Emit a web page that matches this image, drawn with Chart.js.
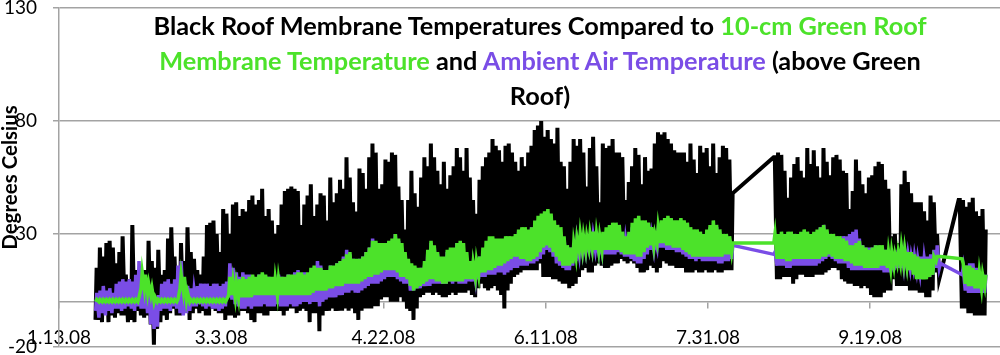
<!DOCTYPE html>
<html>
<head>
<meta charset="utf-8">
<script src="https://cdn.jsdelivr.net/npm/chart.js@4.4.1/dist/chart.umd.min.js"></script>
<style>
  html, body { margin: 0; padding: 0; background: #fff; }
  #wrap { position: relative; width: 1000px; height: 355px; }
  #title {
    position: absolute; left: 90px; top: 8px; width: 900px;
    text-align: center; font-family: Lato, sans-serif; font-weight: bold;
    font-size: 25.3px; line-height: 35px; color: #000;
  }
  .g { color: #4ce22a; }
  .p { color: #7a4de6; }
</style>
</head>
<body>
<div id="wrap">
  <canvas id="chart" width="1000" height="355"></canvas>
  <div id="title">Black Roof Membrane Temperatures Compared to <span class="g">10-cm Green Roof</span><br><span class="g">Membrane Temperature</span> and <span class="p">Ambient Air Temperature</span> (above Green<br>Roof)</div>
</div>
<script>
// days are counted from 1.13.08; first recorded day is day 11
const firstDay = 11;
const axisStart = [2008, 0, 13];
const tickStep = 50;

// black roof membrane: daily high / low (deg C)
const blackHigh = [
  15, 24, 20, 26, 27, 24, 17, 22, 29, 12,
  10, 34, 14, 8, 12, 14, 27, 18, 15, 23,
  12, 14, 28, 33, 20, 15, 26, 18, 33, 22,
  19, 14, 12, 20, 34, 35, 36, 30, 22, 41,
  39, 30, 43, 44, 38, 41, 40, 45, 47, 43,
  45, 50, 38, 41, 36, 30, 34, 43, 49, 50,
  51, 50, 49, 34, 43, 47, 52, 38, 43, 48,
  47, 36, 55, 44, 48, 54, 50, 64, 55, 44,
  40, 59, 57, 50, 64, 70, 66, 50, 52, 63,
  62, 66, 65, 51, 45, 32, 45, 58, 48, 42,
  55, 64, 60, 70, 64, 58, 52, 62, 50, 56,
  60, 68, 64, 58, 68, 55, 45, 39, 54, 60,
  64, 66, 72, 69, 67, 62, 69, 70, 66, 62,
  58, 64, 60, 66, 69, 76, 78, 80, 73, 76,
  72, 70, 77, 62, 60, 50, 62, 72, 69, 72,
  66, 51, 68, 73, 60, 44, 70, 68, 69, 72,
  66, 66, 64, 45, 53, 60, 68, 65, 52, 64,
  58, 59, 70, 75, 74, 75, 72, 70, 67, 66,
  66, 66, 62, 70, 63, 57, 69, 66, 68, 60,
  70, 57, 64, 69, 68, 63, 48, null, null, null,
  null, null, null, null, null, null, null, null, null, 64,
  66, 65, 58, 46, 55, 61, 64, 58, 55, 68,
  61, 67, 60, 55, 68, 62, 56, 64, 65, 63,
  58, 57, 41, 49, 63, 58, 52, 48, 55, 56,
  60, 62, 61, 54, 50, 29, 30, 26, 52, 58,
  53, 48, 44, 44, 44, 40, 36, 47, 44, 30,
  12, null, null, null, null, null, 45, 45, 42, 44,
  46, 40, 38, 41, 32
];
const blackLow = [
  -8, -8, -9, -4, -9, -6, -7, -5, -6, -6,
  -9, -8, -9, -4, -6, -7, -6, -10, -19, -12,
  -9, -6, -8, -5, -3, -6, -6, -4, -3, -8,
  -5, -3, -5, -4, -6, -6, -3, -4, -5, -5,
  -8, -6, -6, -7, -6, -4, -4, -5, -8, -9,
  -5, -5, -6, -6, -4, -4, -4, -4, -6, -4,
  -3, -3, -5, -4, -3, -4, -9, -5, -5, -13,
  -6, -4, -4, -3, -4, -4, -4, -3, -4, -3,
  -5, -8, -4, -3, -3, -3, -2, -2, 1, 2,
  2, 0, 0, 0, 2, 0, -3, -4, -8, -3,
  2, 3, 4, 4, 3, 4, 3, 2, 2, 3,
  4, 3, 4, 4, 4, 5, 3, 2, 6, 8,
  6, 5, 6, 7, 5, 3, -3, 5, 8, 11,
  12, 13, 14, 14, 14, 14, 14, 17, 11, 11,
  11, 10, 10, 9, 8, 8, 6, 7, 8, 11,
  14, 15, 13, 13, 16, 17, 16, 15, 15, 16,
  17, 17, 19, 18, 17, 18, 17, 15, 13, 13,
  14, 16, 15, 13, 15, 18, 17, 16, 16, 15,
  15, 15, 13, 13, 13, 14, 13, 13, 14, 13,
  13, 14, 13, 13, 14, 14, 14, null, null, null,
  null, null, null, null, null, null, null, null, null, 64,
  10, 10, 11, 11, 11, 8, 10, 12, 12, 11,
  11, 11, 12, 12, 12, 13, 14, 15, 15, 14,
  10, 9, 8, 8, 7, 7, 6, 7, 6, 3,
  2, 2, 2, 4, 5, 5, 10, 7, 7, 7,
  7, 5, 5, 5, 4, 4, 2, 2, 5, 13,
  10, null, null, null, null, null, 45, -3, -3, -5,
  -5, -6, -6, -6, -6
];

// ambient air above the green roof: daily high / low
const airHigh = [
  4, 5, 7, 5, 6, 4, 8, 9, 10, 9,
  10, 9, 12, 18, 13, 8, 7, 4, 2, 3,
  8, 9, 10, 8, 10, 16, 18, 9, 7, 6,
  5, 7, 8, 8, 8, 7, 8, 8, 7, 8,
  9, 17, 15, 13, 11, 13, 12, 12, 11, 10,
  12, 12, 10, 11, 9, 10, 12, 11, 10, 12,
  11, 13, 14, 12, 13, 12, 13, 15, 18, 16,
  13, 14, 16, 15, 17, 18, 20, 23, 21, 19,
  17, 19, 20, 22, 24, 28, 26, 23, 24, 24,
  24, 27, 30, 27, 23, 20, 16, 14, 13, 14,
  15, 16, 22, 26, 24, 21, 18, 19, 22, 20,
  23, 26, 25, 22, 19, 17, 16, 18, 20, 22,
  24, 26, 25, 24, 26, 27, 26, 27, 28, 29,
  31, 32, 30, 31, 33, 35, 36, 37, 38, 39,
  36, 34, 32, 30, 28, 23, 24, 25, 27, 28,
  27, 27, 28, 29, 27, 27, 30, 31, 31, 32,
  33, 31, 28, 27, 30, 33, 35, 34, 33, 33,
  32, 29, 28, 31, 33, 34, 35, 34, 33, 31,
  28, 30, 31, 29, 30, 31, 29, 28, 30, 33,
  34, 33, 30, 28, 29, 27, 25, null, null, null,
  null, null, null, null, null, null, null, null, null, 22,
  28, 29, 28, 29, 28, 29, 28, 30, 29, 29,
  30, 29, 31, 33, 34, 31, 29, 28, 27, 28,
  29, 29, 30, 31, 32, 28, 25, 24, 24, 24,
  25, 24, 24, 23, 22, 21, 22, 23, 23, 22,
  21, 20, 20, 19, 20, 19, 20, 21, 23, 25,
  17, null, null, null, null, null, null, 15, 16, 17,
  17, 15, 13, 12, 12
];
const airLow = [
  -4, -7, -5, -6, -4, -5, -3, -3, -4, -3,
  -2, -3, -4, -2, -3, -3, -5, -10, -12, -11,
  -4, -3, -3, -4, -2, -3, -5, -6, -5, -4,
  -2, -2, -1, -2, -3, -2, -3, -3, -4, -3,
  -2, 2, 1, -1, -2, -3, -3, -2, -3, -2,
  -2, -2, -1, -2, -2, -2, -1, -2, -2, -2,
  -1, -2, -2, -1, 0, 0, -1, 0, 0, -2,
  0, 1, 2, 2, 2, 3, 3, 4, 4, 5,
  4, 4, 5, 6, 7, 8, 8, 8, 9, 10,
  11, 11, 11, 10, 9, 8, 8, 5, 5, 6,
  6, 7, 7, 7, 8, 8, 8, 8, 8, 9,
  8, 9, 8, 8, 8, 9, 9, 10, 10, 11,
  11, 12, 12, 12, 13, 13, 12, 13, 14, 15,
  15, 16, 16, 16, 17, 17, 18, 19, 21, 23,
  22, 20, 17, 16, 15, 14, 14, 16, 18, 21,
  22, 22, 23, 23, 23, 22, 22, 21, 21, 21,
  21, 22, 21, 20, 20, 19, 18, 17, 17, 19,
  21, 23, 23, 24, 24, 24, 23, 23, 23, 22,
  22, 21, 20, 19, 19, 18, 19, 18, 18, 18,
  18, 18, 17, 17, 18, 18, 19, null, null, null,
  null, null, null, null, null, null, null, null, null, 21,
  16, 16, 16, 15, 15, 16, 16, 16, 16, 16,
  16, 16, 16, 17, 18, 19, 20, 19, 18, 17,
  17, 17, 15, 14, 14, 14, 14, 14, 14, 14,
  14, 14, 14, 13, 13, 13, 14, 15, 15, 16,
  16, 15, 15, 14, 13, 12, 12, 11, 12, 15,
  15, null, null, null, null, null, null, 12, 5, 4,
  4, 4, 4, 4, 4
];

// 10-cm green roof membrane: daily high / low
const greenHigh = [
  1, 1, 1, 1, 1, 1, 1, 1, 1, 1,
  1, 1, 1, 2, 13, 12, 8, 6, 2, 1,
  1, 1, 1, 1, 1, 1, 12, 11, 4, 1,
  1, 1, 1, 1, 1, 1, 1, 1, 1, 1,
  1, 11, 9, 8, 10, 11, 10, 11, 12, 11,
  12, 13, 12, 11, 11, 10, 10, 11, 11, 12,
  12, 12, 13, 13, 12, 13, 15, 16, 15, 15,
  14, 14, 16, 16, 17, 18, 19, 21, 22, 19,
  19, 19, 20, 22, 24, 27, 27, 26, 26, 26,
  27, 28, 30, 28, 26, 22, 19, 17, 16, 15,
  15, 18, 23, 27, 25, 22, 20, 20, 23, 24,
  24, 26, 27, 26, 22, 18, 17, 18, 20, 24,
  27, 29, 29, 28, 28, 28, 29, 29, 29, 30,
  32, 33, 33, 32, 33, 36, 38, 39, 40, 41,
  39, 36, 34, 33, 29, 25, 24, 26, 28, 30,
  29, 29, 30, 31, 30, 29, 31, 33, 34, 35,
  35, 34, 31, 29, 31, 35, 37, 38, 36, 36,
  35, 33, 30, 33, 36, 37, 38, 37, 36, 36,
  37, 36, 35, 33, 32, 32, 31, 30, 32, 34,
  36, 34, 32, 30, 30, 29, 26, null, null, null,
  null, null, null, null, null, null, null, null, null, 30,
  30, 31, 30, 31, 31, 30, 30, 31, 32, 31,
  30, 31, 32, 33, 34, 32, 30, 30, 29, 29,
  28, 27, 25, 25, 26, 27, 25, 24, 23, 24,
  25, 25, 25, 23, 22, 22, 21, 22, 24, 23,
  22, 22, 21, 20, 19, 19, 19, 19, 20, 20,
  20, null, null, null, null, null, null, 17, 16, 16,
  15, 14, 13, 12, 12
];
const greenLow = [
  0, 0, 0, 0, 0, 0, 0, 0, 0, 0,
  0, 0, 0, 0, 6, 6, 4, 3, 0, 0,
  0, 0, 0, 0, 0, 0, 6, 5, 1, 0,
  0, 0, 0, 0, 0, 0, 0, 0, 0, 0,
  0, 3, 3, 2, 2, 2, 2, 2, 2, 3,
  3, 3, 3, 3, 3, 3, 3, 3, 3, 3,
  3, 3, 3, 3, 3, 3, 3, 4, 5, 5,
  5, 5, 6, 6, 7, 7, 7, 8, 8, 8,
  8, 8, 9, 10, 11, 11, 12, 12, 13, 14,
  14, 14, 14, 13, 11, 11, 10, 7, 5, 6,
  7, 8, 9, 10, 10, 9, 9, 8, 8, 9,
  9, 9, 9, 9, 10, 10, 10, 11, 12, 13,
  13, 14, 14, 15, 16, 16, 17, 18, 19, 20,
  20, 19, 19, 18, 18, 19, 20, 22, 24, 25,
  24, 22, 20, 18, 16, 16, 16, 17, 20, 23,
  23, 23, 24, 24, 23, 23, 23, 23, 23, 23,
  23, 23, 22, 21, 21, 21, 21, 20, 20, 22,
  24, 25, 25, 26, 26, 26, 25, 25, 24, 24,
  24, 23, 22, 21, 20, 20, 20, 20, 20, 20,
  20, 20, 20, 20, 21, 21, 22, null, null, null,
  null, null, null, null, null, null, null, null, null, 26,
  19, 19, 19, 18, 18, 19, 19, 19, 19, 19,
  19, 19, 19, 19, 20, 20, 21, 20, 19, 19,
  19, 18, 18, 17, 16, 16, 16, 15, 15, 15,
  15, 15, 16, 16, 15, 15, 16, 17, 17, 17,
  16, 14, 12, 10, 10, 10, 10, 11, 12, 18,
  20, null, null, null, null, null, null, 19, 8, 7,
  7, 6, 6, 6, 7
];

// each day: the low early in the day, the high in the afternoon
function dailyPoints(low, high, lowAt, highAt) {
  const pts = [];
  low.forEach((v, i) => {
    const d = firstDay + i;
    if (v !== null) pts.push({ x: d + lowAt, y: v });
    if (high[i] !== null) pts.push({ x: d + highAt, y: high[i] });
  });
  return pts;
}

function dayLabel(v) {
  const d = new Date(axisStart[0], axisStart[1], axisStart[2] + v);
  return (d.getMonth() + 1) + "." + d.getDate() + ".08";
}

const gridGray = "#a3a3a3";

function draw() {
  const ctx = document.getElementById("chart").getContext("2d");
  new Chart(ctx, {
    type: "line",
    data: {
      datasets: [
        {
          label: "10-cm Green Roof Membrane",
          data: dailyPoints(greenLow, greenHigh, 0.3, 0.65),
          borderColor: "#4ce22a",
          borderWidth: 3.5
        },
        {
          label: "Ambient Air",
          data: dailyPoints(airLow, airHigh, 0.3, 0.65),
          borderColor: "#7a4de6",
          borderWidth: 3.5
        },
        {
          label: "Black Roof Membrane",
          data: dailyPoints(blackLow, blackHigh, 0.25, 0.6),
          borderColor: "#000000",
          borderWidth: 4
        }
      ]
    },
    options: {
      responsive: false,
      animation: false,
      devicePixelRatio: 1,
      spanGaps: true,
      elements: { point: { radius: 0 }, line: { tension: 0 } },
      layout: { padding: { top: 8, bottom: 8, left: 0, right: 0 } },
      plugins: { legend: { display: false }, tooltip: { enabled: false } },
      scales: {
        x: {
          type: "linear",
          min: 0,
          max: 290,
          position: { y: 0 },
          grid: { drawOnChartArea: false, drawTicks: true, tickLength: 6, color: gridGray, lineWidth: 1.5 },
          border: { color: gridGray, width: 1.5 },
          ticks: {
            stepSize: tickStep,
            includeBounds: false,
            autoSkip: false,
            maxRotation: 0,
            padding: 19,
            color: "#000",
            font: { family: "Lato", size: 19 },
            callback: v => dayLabel(v)
          }
        },
        y: {
          min: -20,
          max: 130,
          grid: { color: gridGray, lineWidth: 1.5, tickLength: 6 },
          border: { color: gridGray, width: 1.5 },
          ticks: {
            stepSize: 50,
            padding: 16,
            color: "#000",
            font: { family: "Lato", size: 19 }
          },
          title: {
            display: true,
            text: "Degrees Celsius",
            color: "#000",
            font: { family: "Lato", size: 20.5, weight: "bold", lineHeight: 1 },
            padding: { top: 0, bottom: 0 }
          },
          afterFit: scale => {
            scale.width = 59;
            scale.paddingTop = 0;
            scale.paddingBottom = 0;
          }
        }
      }
    }
  });
}

document.fonts.load("19px Lato").then(() => document.fonts.load("bold 20px Lato")).then(draw, draw);
</script>
</body>
</html>
